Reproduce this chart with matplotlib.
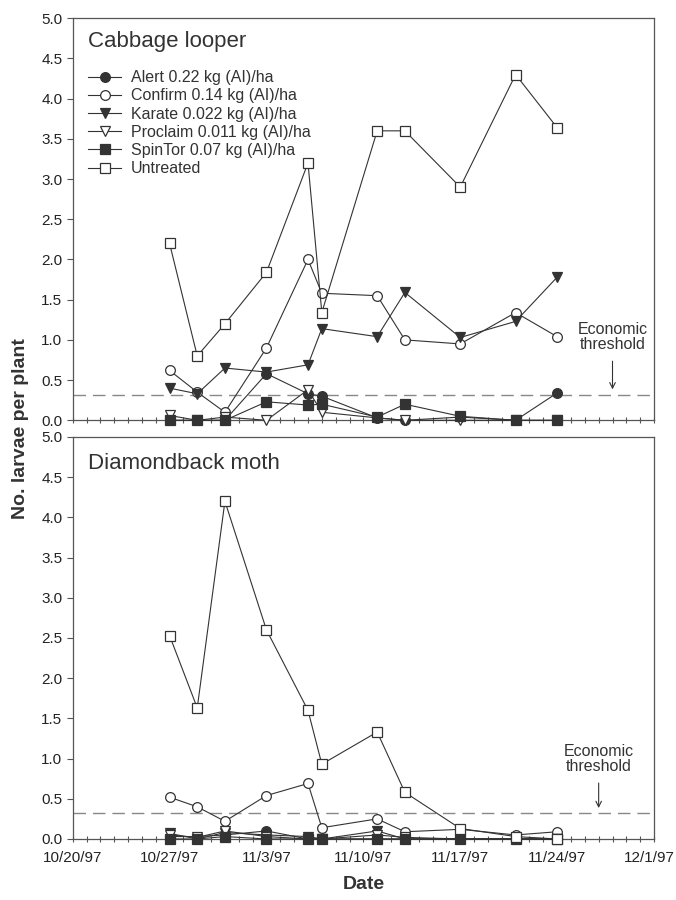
import datetime as dt
import matplotlib
matplotlib.use("Agg")
import matplotlib.pyplot as plt
import matplotlib.dates as mdates
import matplotlib.transforms as mtransforms
from matplotlib.ticker import FuncFormatter, MultipleLocator

plt.rcParams["font.family"] = ["Liberation Sans", "DejaVu Sans"]

# sampling dates (1997)
dates = ["10/27", "10/29", "10/31", "11/3", "11/6", "11/7",
         "11/11", "11/13", "11/17", "11/21", "11/24"]

labels = ["Alert 0.22 kg (AI)/ha", "Confirm 0.14 kg (AI)/ha", "Karate 0.022 kg (AI)/ha",
          "Proclaim 0.011 kg (AI)/ha", "SpinTor 0.07 kg (AI)/ha", "Untreated"]

# Cabbage looper
cl_alert = [0.0, 0.0, 0.0, 0.58, 0.33, 0.3, 0.03, 0.0, 0.04, 0.0, 0.34]
cl_confirm = [0.62, 0.35, 0.1, 0.9, 2.0, 1.58, 1.55, 1.0, 0.95, 1.34, 1.04]
cl_karate = [0.4, 0.33, 0.65, 0.6, 0.69, 1.14, 1.04, 1.59, 1.03, 1.23, 1.78]
cl_proclaim = [0.06, 0.0, 0.04, 0.0, 0.38, 0.1, 0.03, 0.0, 0.0, 0.0, 0.0]
cl_spintor = [0.0, 0.0, 0.0, 0.23, 0.19, 0.2, 0.04, 0.2, 0.05, 0.0, 0.0]
cl_untreated = [2.2, 0.8, 1.2, 1.84, 3.2, 1.34, 3.6, 3.6, 2.9, 4.3, 3.64]

# Diamondback moth
dbm_alert = [0.03, 0.03, 0.05, 0.1, 0.0, 0.0, 0.0, 0.0, 0.0, 0.0, 0.0]
dbm_confirm = [0.52, 0.4, 0.22, 0.54, 0.69, 0.14, 0.25, 0.09, 0.12, 0.05, 0.09]
dbm_karate = [0.07, 0.0, 0.08, 0.05, 0.03, 0.0, 0.1, 0.0, 0.0, 0.0, 0.0]
dbm_proclaim = [0.05, 0.02, 0.1, 0.03, 0.0, 0.0, 0.05, 0.02, 0.0, 0.0, 0.0]
dbm_spintor = [0.0, 0.0, 0.03, 0.0, 0.0, 0.0, 0.0, 0.0, 0.0, 0.0, 0.0]
dbm_untreated = [2.53, 1.63, 4.2, 2.6, 1.6, 0.93, 1.33, 0.58, 0.13, 0.03, 0.0]

threshold = 0.32

x = [dt.date(1997, int(d.split("/")[0]), int(d.split("/")[1])) for d in dates]
start = dt.date(1997, 10, 20)
end = dt.date(1997, 12, 1)
week_ticks = [start + dt.timedelta(days=7 * i) for i in range(7)]

line_col = "#333333"
styles = [
    dict(marker="o", mfc=line_col),
    dict(marker="o", mfc="white"),
    dict(marker="v", mfc=line_col),
    dict(marker="v", mfc="white"),
    dict(marker="s", mfc=line_col),
    dict(marker="s", mfc="white"),
]


def fmt_date(v, pos=None):
    d = mdates.num2date(v)
    return f"{d.month}/{d.day}/{d.strftime('%y')}"


def draw_panel(ax, series, title, show_legend, note_x, note_y):
    for vals, lab, st in zip(series, labels, styles):
        ax.plot(x, vals, color=line_col, lw=0.8, ms=7, mec=line_col, mew=0.9,
                label=lab, clip_on=False, zorder=3, **st)
    ax.axhline(threshold, color="#888888", lw=1.0, dashes=(9, 5), zorder=1)
    ax.set_xlim(start, end)
    ax.set_ylim(0, 5)
    ax.yaxis.set_major_locator(MultipleLocator(0.5))
    ax.yaxis.set_major_formatter(FuncFormatter(lambda v, p: f"{v:.1f}"))
    ax.set_xticks(week_ticks)
    ax.xaxis.set_minor_locator(mdates.DayLocator())
    ax.xaxis.set_major_formatter(FuncFormatter(fmt_date))
    ax.tick_params(axis="y", direction="out", length=4, width=0.8, color="#555555",
                   labelsize=11, labelcolor="#222222")
    ax.tick_params(axis="x", which="both", direction="inout", length=5, width=0.8,
                   color="#555555", labelsize=11, labelcolor="#222222", pad=6)
    ax.tick_params(axis="x", which="minor", length=4)
    for s in ax.spines.values():
        s.set_color("#555555")
        s.set_linewidth(0.9)
    ax.text(0.027, title[1], title[0], transform=ax.transAxes, fontsize=16,
            color="#333333", va="center", ha="left")
    ax.text(note_x, note_y, "Economic\nthreshold", fontsize=11.5, color="#333333",
            ha="center", va="center", linespacing=1.0)
    ax.annotate("", xy=(note_x, threshold + 0.03), xytext=(note_x, note_y - 0.27),
                arrowprops=dict(arrowstyle="->", color="#333333", lw=0.8))
    if show_legend:
        ax.legend(loc="upper left", bbox_to_anchor=(0.026, 0.871), frameon=False,
                  fontsize=11.5, handlelength=2.1, handletextpad=0.6,
                  labelspacing=0.2, borderpad=0, borderaxespad=0,
                  labelcolor="#333333")


fig = plt.figure(figsize=(6.76, 9), dpi=100)
ax1 = fig.add_axes([0.1075, 0.533, 0.86, 0.4467])
ax2 = fig.add_axes([0.1075, 0.0678, 0.86, 0.4467])

draw_panel(ax1, [cl_alert, cl_confirm, cl_karate, cl_proclaim, cl_spintor, cl_untreated],
           ("Cabbage looper", 0.942), True, dt.date(1997, 11, 28), 1.04)
draw_panel(ax2, [dbm_alert, dbm_confirm, dbm_karate, dbm_proclaim, dbm_spintor, dbm_untreated],
           ("Diamondback moth", 0.935), False, dt.date(1997, 11, 27), 1.0)
ax1.tick_params(axis="x", labelbottom=False)

# nudge the last date label so it stays inside the figure
last = ax2.get_xticklabels()[-1]
last.set_transform(last.get_transform() + mtransforms.ScaledTranslation(-0.05, 0, fig.dpi_scale_trans))

ax2.set_xlabel("Date", fontsize=14, fontweight="bold", color="#333333", labelpad=8)
fig.text(0.03, 0.524, "No. larvae per plant", rotation=90, fontsize=14,
         fontweight="bold", color="#333333", ha="center", va="center")

fig.savefig("out.png", dpi=100)
